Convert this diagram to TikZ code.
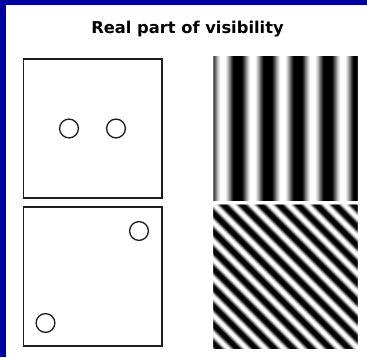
\documentclass[tikz,border=0pt]{standalone}
\usepackage{fontspec}
\newfontfamily\titlefont{DejaVu Sans}
\definecolor{frameblue}{RGB}{0,0,160}
\definecolor{boxline}{RGB}{30,30,30}
\begin{document}
\begin{tikzpicture}[x=1pt,y=-1pt,
  panel/.style={draw=boxline,line width=1.5pt,minimum width=138.7pt,minimum height=139pt,inner sep=0pt,outer sep=0pt},
  hole/.style={circle,draw=boxline,line width=1.3pt,minimum size=18.8pt,inner sep=0pt}]
\useasboundingbox[fill=white] (0,0) rectangle (367,357);
\fill[frameblue] (0,0) rectangle (5.5,357);
\fill[frameblue] (0,0) rectangle (367,4.6);
\node[anchor=base,font=\titlefont\bfseries\fontsize{16.3}{19}\selectfont] (title) at (187.5,33.3) {Real part of visibility};
\node[panel] (boxA) at (92.85,128.5) {};
\node[panel] (boxB) at (92.85,276.5) {};
\node[hole] (a1) at (69,128.5) {};
\node[hole] (a2) at (116,128.5) {};
\node[hole] (b1) at (139,231) {};
\node[hole] (b2) at (45.5,323) {};
\begin{scope}[shift={(213.3,56)}]
\clip (0,0) rectangle (144.4,144.5);
\foreach \i in {0,...,144} {
  \pgfmathsetmacro\g{100*max(0,min(1,0.42+0.66*cos(12*(\i-9.5))))}
  \fill[white!\g!black] (\i,0) rectangle (\i+1.5,144.5);
}
\end{scope}
\begin{scope}[shift={(213.3,204.5)}]
\clip (0,0) rectangle (144.4,144);
\foreach \c in {-146,...,146} {
  \pgfmathsetmacro\g{100*max(0,min(1,0.42-0.66*cos(19.3548*(\c-9.5))))}
  \fill[white!\g!black] (\c,0) -- (\c+1.5,0) -- (\c+146.5,145) -- (\c+145,145) -- cycle;
}
\end{scope}
\end{tikzpicture}
\end{document}
